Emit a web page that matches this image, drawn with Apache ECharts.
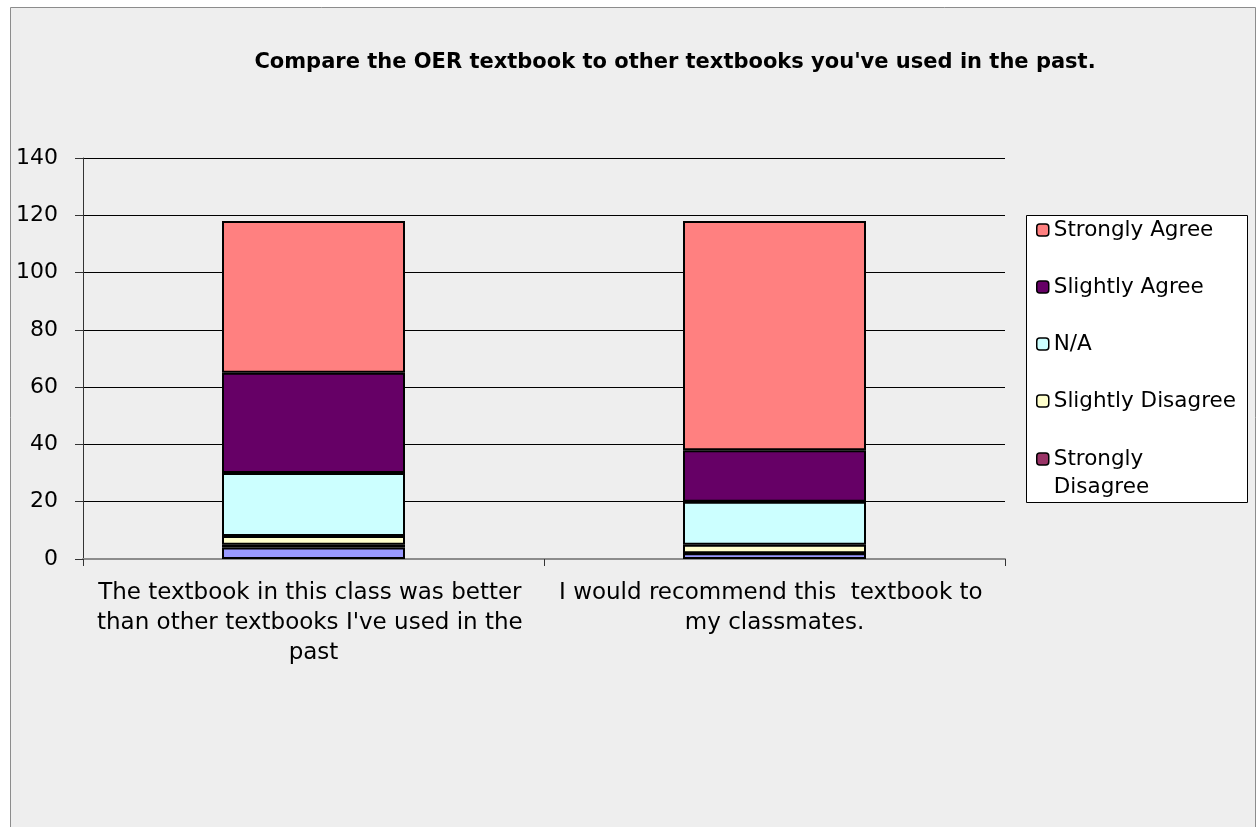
<!DOCTYPE html>
<html>
<head>
<meta charset="utf-8">
<script src="https://cdn.jsdelivr.net/npm/echarts@6/dist/echarts.min.js"></script>
<style>
html,body{margin:0;padding:0;background:#ffffff;}
#chart{width:1257px;height:827px;}
</style>
</head>
<body>
<div id="chart"></div>
<script>
const title = "Compare the OER textbook to other textbooks you've used in the past.";
const categories = [
  "The textbook in this class was better than other textbooks I've used in the past",
  "I would recommend this  textbook to my classmates."
];
const yTicks = [0, 20, 40, 60, 80, 100, 120, 140];
// stacked from bottom to top
const blankValues = [4, 2];
const stronglyDisagree = [1, 0];
const slightlyDisagree = [3, 3];
const notApplicable = [22, 15];
const slightlyAgree = [35, 18];
const stronglyAgree = [53, 80];
const legendOrder = ["Strongly Agree", "Slightly Agree", "N/A", "Slightly Disagree", "Strongly Disagree"];

const font = "DejaVu Sans";
const chart = echarts.init(document.getElementById('chart'), null, {renderer: 'canvas'});

function barSeries(name, data, color) {
  return {
    name: name,
    type: 'bar',
    stack: 'total',
    data: data,
    barWidth: 183,
    itemStyle: {color: color, borderColor: '#000000', borderWidth: 2},
    emphasis: {disabled: true},
    animation: false
  };
}

const legendCommon = {
  orient: 'vertical',
  left: 1036,
  padding: 0,
  itemWidth: 12,
  itemHeight: 12,
  itemGap: 29,
  itemStyle: {borderColor: '#000000', borderWidth: 1.5},
  textStyle: {
    fontFamily: font, fontSize: 21.5, color: '#000000', lineHeight: 28,
    rich: {e: {fontFamily: font, fontSize: 21.5, lineHeight: 28}}
  },
  selectedMode: false
};

chart.setOption({
  animation: false,
  backgroundColor: '#ffffff',
  graphic: [{
    type: 'rect',
    z: -10,
    silent: true,
    shape: {x: 10.5, y: 7.5, width: 1245, height: 830},
    style: {fill: '#eeeeee', stroke: '#8c8c8c', lineWidth: 1}
  }, {
    type: 'rect',
    z: 1,
    silent: true,
    shape: {x: 1026.5, y: 215.5, width: 221, height: 287},
    style: {fill: '#ffffff', stroke: '#000000', lineWidth: 1}
  }],
  title: {
    text: title,
    left: 670,
    textAlign: 'center',
    top: 47,
    textStyle: {fontFamily: font, fontSize: 21, fontWeight: 'bold', color: '#000000'}
  },
  grid: {left: 83, right: 252, top: 158, bottom: 268, containLabel: false},
  legend: [
    Object.assign({}, legendCommon, {
      top: 216,
      data: legendOrder.slice(0, 4)
    }),
    Object.assign({}, legendCommon, {
      top: 417,
      formatter: function () { return '{e| }\nStrongly\nDisagree'; },
      data: legendOrder.slice(4)
    })
  ],
  xAxis: {
    type: 'category',
    data: categories,
    axisLine: {show: true, lineStyle: {color: '#8c8c8c', width: 2}},
    axisTick: {show: true, length: 7, lineStyle: {color: '#333333', width: 1}},
    axisLabel: {
      interval: 0,
      fontFamily: font,
      fontSize: 23,
      color: '#000000',
      lineHeight: 30,
      margin: 19,
      width: 440,
      overflow: 'break',
      align: 'center'
    }
  },
  yAxis: {
    type: 'value',
    min: yTicks[0],
    max: yTicks[yTicks.length - 1],
    interval: 20,
    axisLine: {show: true, lineStyle: {color: '#333333', width: 1}},
    axisTick: {show: true, length: 8, lineStyle: {color: '#333333'}},
    axisLabel: {fontFamily: font, fontSize: 22, color: '#000000', margin: 25},
    splitLine: {show: true, lineStyle: {color: '#000000', width: 1}}
  },
  series: [
    barSeries('(blank)', blankValues, '#9999ff'),
    barSeries('Strongly Disagree', stronglyDisagree, '#993366'),
    barSeries('Slightly Disagree', slightlyDisagree, '#ffffcc'),
    barSeries('N/A', notApplicable, '#ccffff'),
    barSeries('Slightly Agree', slightlyAgree, '#660066'),
    barSeries('Strongly Agree', stronglyAgree, '#ff8080')
  ]
});
</script>
</body>
</html>
